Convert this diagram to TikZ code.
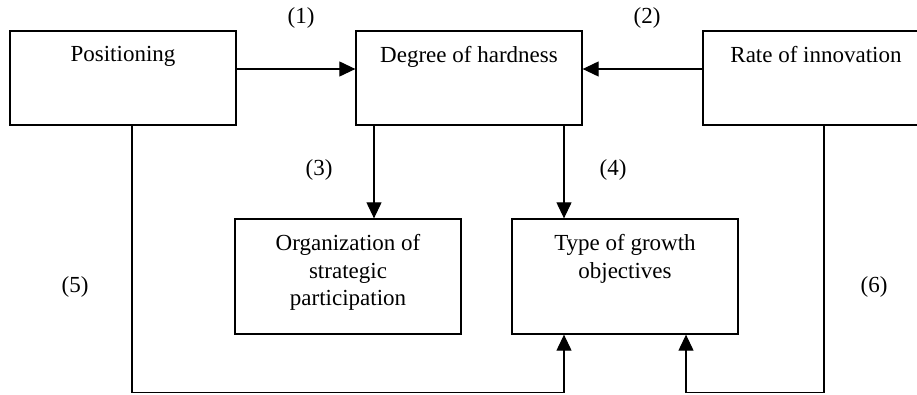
\documentclass[tikz,border=0pt]{standalone}
\usepackage{fontspec}
\setmainfont{Liberation Serif}
\usetikzlibrary{arrows.meta}
\begin{document}
\begin{tikzpicture}[x=1pt,y=-1pt,
  box/.style={draw, line width=1.3pt, minimum width=226pt, inner sep=0pt},
  toprow/.style={box, minimum height=94pt},
  lowrow/.style={box, minimum height=115pt},
  caption/.style={anchor=north, inner sep=0pt, align=center,
    font=\fontsize{23}{27.5}\selectfont, yshift=-16pt},
  tag/.style={inner sep=0pt, font=\fontsize{23}{27}\selectfont},
  link/.style={line width=1.15pt, -{Triangle[length=16pt,width=15pt]}}
]
\useasboundingbox (0,0) rectangle (917,394);

% boxes
\node[toprow] (pos)  at (123,78)    {};
\node[toprow] (deg)  at (469,78)    {};
\node[toprow] (rate) at (816,78)    {};
\node[lowrow] (org)  at (348,276.5) {};
\node[lowrow] (typ)  at (625,276.5) {};

% box texts, set near the top edge
\node[caption] (posT)  at (pos.north)  {Positioning};
\node[caption] (degT)  at (deg.north)  {Degree of hardness};
\node[caption] (rateT) at (rate.north) {Rate of innovation};
\node[caption] (orgT)  at (org.north)  {Organization of\\strategic\\participation};
\node[caption] (typT)  at (typ.north)  {Type of growth\\objectives};

% link numbers
\node[tag] (t1) at (301,18)  {(1)};
\node[tag] (t2) at (647,18)  {(2)};
\node[tag] (t3) at (319,170) {(3)};
\node[tag] (t4) at (613,170) {(4)};
\node[tag] (t5) at (75,287)  {(5)};
\node[tag] (t6) at (874,287) {(6)};

% connectors
\draw[link] ([yshift=9pt]pos.east)  -- ([yshift=9pt]deg.west);
\draw[link] ([yshift=9pt]rate.west) -- ([yshift=9pt]deg.east);
\draw[link] ([xshift=-95pt]deg.south) -- ([xshift=26pt]org.north);
\draw[link] ([xshift=95pt]deg.south)  -- ([xshift=-61pt]typ.north);
\draw[link] ([xshift=9pt]pos.south)  -- ++(0,267) -| ([xshift=-61pt]typ.south);
\draw[link] ([xshift=8pt]rate.south) -- ++(0,267) -| ([xshift=61pt]typ.south);
\end{tikzpicture}
\end{document}
